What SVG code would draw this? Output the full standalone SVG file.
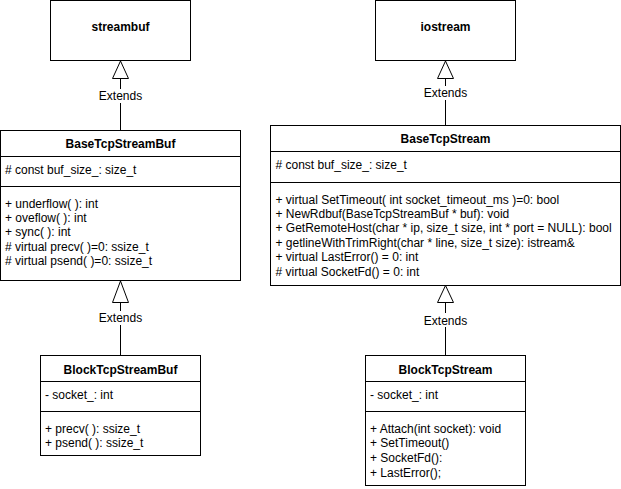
<svg xmlns="http://www.w3.org/2000/svg" width="621" height="489" viewBox="0 0 621 489">
<style>
.box{fill:#fff;stroke:#000;stroke-width:1}
.sep{stroke:#000;stroke-width:1;fill:none}
.edge{stroke:#000;stroke-width:1;fill:none}
.tri{fill:#fff;stroke:#000;stroke-width:1}
text{font-family:"Liberation Sans",Arial,Helvetica,sans-serif;font-size:12px;fill:#000}
.title{font-weight:bold;text-anchor:middle}
.lbl{text-anchor:middle}
.lblbg{fill:#fff;stroke:none}
</style>
<rect width="621" height="489" fill="#fff"/>
<g id="connectors">
  <g id="e1">
    <line class="edge" x1="120.5" y1="130.5" x2="120.5" y2="78.5"/>
    <polygon class="tri" points="120.5,61 112.5,78.5 128.5,78.5"/>
    <rect class="lblbg" x="98.5" y="89" width="44" height="14"/>
    <text class="lbl" x="120.5" y="100">Extends</text>
  </g>
  <g id="e2">
    <line class="edge" x1="445.5" y1="125.5" x2="445.5" y2="78.5"/>
    <polygon class="tri" points="445.5,61 437.5,78.5 453.5,78.5"/>
    <rect class="lblbg" x="423.5" y="86" width="44" height="14"/>
    <text class="lbl" x="445.5" y="97">Extends</text>
  </g>
  <g id="e3">
    <line class="edge" x1="120.5" y1="355.5" x2="120.5" y2="302.5"/>
    <polygon class="tri" points="120.5,281 112.5,302.5 128.5,302.5"/>
    <rect class="lblbg" x="98.5" y="311" width="44" height="14"/>
    <text class="lbl" x="120.5" y="322">Extends</text>
  </g>
  <g id="e4">
    <line class="edge" x1="445.5" y1="355.5" x2="445.5" y2="302.5"/>
    <polygon class="tri" points="445.5,285.5 437.5,302.5 453.5,302.5"/>
    <rect class="lblbg" x="423.5" y="313" width="44" height="14"/>
    <text class="lbl" x="445.5" y="324.5">Extends</text>
  </g>
</g>
<g id="streambuf">
  <rect class="box" x="50.5" y="0.5" width="140" height="60"/>
  <text class="title" x="120.5" y="31">streambuf</text>
</g>
<g id="iostream">
  <rect class="box" x="375.5" y="0.5" width="140" height="60"/>
  <text class="title" x="445.5" y="31">iostream</text>
</g>
<g id="BaseTcpStreamBuf">
  <rect class="box" x="0.5" y="130.5" width="240" height="150"/>
  <line class="sep" x1="0.5" y1="156.5" x2="240.5" y2="156.5"/>
  <line class="sep" x1="0.5" y1="186.5" x2="240.5" y2="186.5"/>
  <text class="title" x="120.5" y="148">BaseTcpStreamBuf</text>
  <text x="5" y="173.5"># const buf_size_: size_t</text>
  <text x="5" y="207.5">+ underflow( ): int</text>
  <text x="5" y="221.9">+ oveflow( ): int</text>
  <text x="5" y="236.3">+ sync( ): int</text>
  <text x="5" y="250.7"># virtual precv( )=0: ssize_t</text>
  <text x="5" y="265.1"># virtual psend( )=0: ssize_t</text>
</g>
<g id="BaseTcpStream">
  <rect class="box" x="270.5" y="125.5" width="350" height="160"/>
  <line class="sep" x1="270.5" y1="151.5" x2="620.5" y2="151.5"/>
  <line class="sep" x1="270.5" y1="182.5" x2="620.5" y2="182.5"/>
  <text class="title" x="445.5" y="143">BaseTcpStream</text>
  <text x="275.5" y="168.5"># const buf_size_: size_t</text>
  <text x="275.5" y="203.5">+ virtual SetTimeout( int socket_timeout_ms )=0: bool</text>
  <text x="275.5" y="217.9">+ NewRdbuf(BaseTcpStreamBuf * buf): void</text>
  <text x="275.5" y="232.3">+ GetRemoteHost(char * ip, size_t size, int * port = NULL): bool</text>
  <text x="275.5" y="246.7">+ getlineWithTrimRight(char * line, size_t size): istream&amp;</text>
  <text x="275.5" y="261.1">+ virtual LastError() = 0: int</text>
  <text x="275.5" y="275.5"># virtual SocketFd() = 0: int</text>
</g>
<g id="BlockTcpStreamBuf">
  <rect class="box" x="40.5" y="355.5" width="160" height="100"/>
  <line class="sep" x1="40.5" y1="381.5" x2="200.5" y2="381.5"/>
  <line class="sep" x1="40.5" y1="411.5" x2="200.5" y2="411.5"/>
  <text class="title" x="120.5" y="374">BlockTcpStreamBuf</text>
  <text x="45" y="399">- socket_: int</text>
  <text x="45" y="433">+ precv( ): ssize_t</text>
  <text x="45" y="447.4">+ psend( ): ssize_t</text>
</g>
<g id="BlockTcpStream">
  <rect class="box" x="365.5" y="355.5" width="160" height="130"/>
  <line class="sep" x1="365.5" y1="381.5" x2="525.5" y2="381.5"/>
  <line class="sep" x1="365.5" y1="411.5" x2="525.5" y2="411.5"/>
  <text class="title" x="445.5" y="374">BlockTcpStream</text>
  <text x="370" y="399">- socket_: int</text>
  <text x="370" y="432.5">+ Attach(int socket): void</text>
  <text x="370" y="447.3">+ SetTimeout()</text>
  <text x="370" y="462.1">+ SocketFd():</text>
  <text x="370" y="476.9">+ LastError();</text>
</g>
</svg>
